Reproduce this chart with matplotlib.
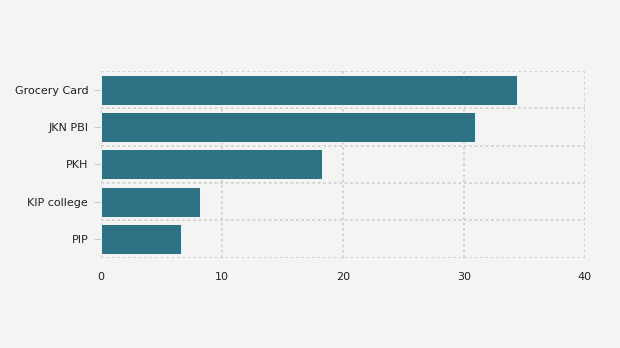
import matplotlib; matplotlib.use("Agg")
import matplotlib.pyplot as plt
from matplotlib.ticker import FixedLocator

programs = ["Grocery Card", "JKN PBI", "PKH", "KIP college", "PIP"]
values = [34.4, 30.9, 18.3, 8.2, 6.6]
xticks = [0, 10, 20, 30, 40]

BG = "#f4f4f4"
BAR = "#2f7284"
GRID = "#d2d2d2"

fig = plt.figure(figsize=(6.2, 3.48), dpi=100, facecolor=BG)
ax = fig.add_axes([0.1624, 0.2595, 0.9435 - 0.1624, 0.796 - 0.2595], facecolor=BG)

y = list(range(len(programs)))
ax.barh(y, values, height=0.8, color=BAR, edgecolor="white", linewidth=0.6, zorder=3)

ax.set_xlim(0, 40)
ax.set_ylim(len(programs) - 0.5, -0.5)
ax.set_xticks(xticks)
ax.set_yticks(y)
ax.set_yticklabels(programs)
# band boundaries carry the horizontal grid
ax.yaxis.set_minor_locator(FixedLocator([i - 0.5 for i in range(len(programs) + 1)]))

for s in ax.spines.values():
    s.set_visible(False)
ax.grid(axis="x", which="major", color=GRID, ls=(0, (1.5, 1.5)), lw=1.3, zorder=1)
ax.grid(axis="y", which="minor", color=GRID, ls=(0, (1.5, 1.5)), lw=1.3, zorder=1)
ax.tick_params(axis="x", length=0, pad=10, labelsize=8, colors="#222222")
ax.tick_params(axis="y", which="major", length=5, color="#cccccc", pad=4,
               labelsize=8, labelcolor="#222222")
ax.tick_params(axis="y", which="minor", length=0)

fig.savefig("out.png", dpi=100, facecolor=BG)
